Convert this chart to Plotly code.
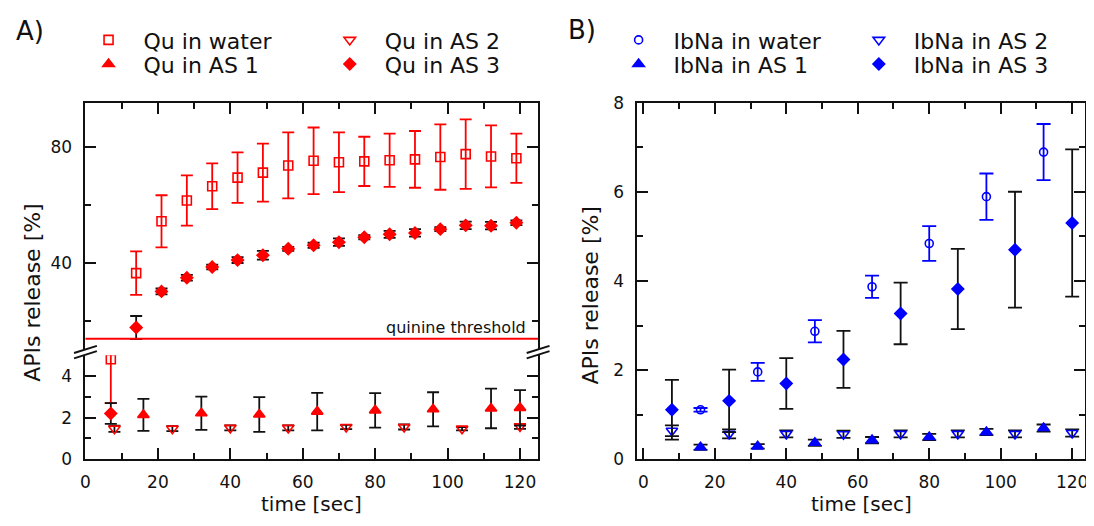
import plotly.graph_objects as go

# ---------------- Panel A: quinine (Qu) release [%] ----------------
qu_t_water = [7, 14, 21, 28, 35, 42, 49, 56, 63, 70, 77, 84, 91, 98, 105, 112, 119]
qu_water = [4.8, 36.4, 54.3, 61.5, 66.4, 69.4, 71.1, 73.6, 75.2, 74.7, 75.0, 75.4, 75.7, 76.5, 77.5, 76.7, 76.1]
qu_water_err = [2.1, 7.5, 9.0, 8.7, 7.9, 8.7, 10.0, 11.4, 11.5, 10.3, 8.5, 9.2, 9.8, 11.3, 12.0, 10.7, 8.5]

qu_t_as1 = [16, 32, 48, 64, 80, 96, 112, 120]
qu_as1 = [2.13, 2.21, 2.15, 2.29, 2.35, 2.40, 2.44, 2.47]
qu_as1_err = [0.77, 0.80, 0.83, 0.90, 0.83, 0.82, 0.95, 0.85]

qu_t_as2 = [8, 24, 40, 56, 72, 88, 104, 120]
qu_as2 = [1.47, 1.47, 1.51, 1.51, 1.55, 1.55, 1.47, 1.58]
qu_as2_err = [0.15, 0.12, 0.12, 0.12, 0.10, 0.12, 0.08, 0.12]

qu_t_as3 = [7, 14, 21, 28, 35, 42, 49, 56, 63, 70, 77, 84, 91, 98, 105, 112, 119]
qu_as3 = [2.2, 17.6, 30.1, 34.8, 38.5, 40.9, 42.6, 44.8, 46.0, 47.1, 48.8, 49.8, 50.3, 51.6, 52.9, 52.8, 53.8]
qu_as3_err = [0.5, 4.0, 1.0, 1.0, 0.8, 1.0, 1.5, 0.7, 0.9, 1.3, 0.7, 1.2, 1.3, 0.7, 1.3, 1.3, 0.8]

quinine_threshold = 13.7

# ---------------- Panel B: ibuprofen sodium (IbNa) release [%] ----------------
ib_t_water = [16, 32, 48, 64, 80, 96, 112]
ib_water = [1.11, 1.96, 2.87, 3.87, 4.84, 5.89, 6.89]
ib_water_err = [0.04, 0.20, 0.25, 0.25, 0.39, 0.52, 0.63]

ib_t_as1 = [16, 32, 48, 64, 80, 96, 112]
ib_as1 = [0.27, 0.29, 0.37, 0.43, 0.50, 0.61, 0.70]
ib_as1_err = [0.06, 0.05, 0.07, 0.07, 0.07, 0.07, 0.08]

ib_t_as2 = [8, 24, 40, 56, 72, 88, 104, 120]
ib_as2 = [0.64, 0.57, 0.57, 0.56, 0.57, 0.57, 0.57, 0.59]
ib_as2_err = [0.12, 0.10, 0.08, 0.08, 0.08, 0.08, 0.08, 0.08]

ib_t_as3 = [8, 24, 40, 56, 72, 88, 104, 120]
ib_as3 = [1.11, 1.31, 1.70, 2.24, 3.27, 3.82, 4.70, 5.30]
ib_as3_err = [0.67, 0.70, 0.57, 0.64, 0.69, 0.90, 1.30, 1.65]

# page has an 8px body margin: the figure starts at (8, 8) in the window
OFF = 8
W, H = 1094 - OFF, 526 - OFF
FONT = "DejaVu Sans"
RED = "#ff0000"
BLUE = "#0000ff"
BLACK = "#111111"


def px(x):
    return (x - OFF) / W


def py(y):
    return 1 - (y - OFF) / H


fig = go.Figure()


def add(x, y, err, symbol, color, ecolor, size, name, xa, ya, legend=None, show=False, ew=6):
    fig.add_trace(go.Scatter(
        x=x, y=y, mode="markers", name=name,
        marker=dict(symbol=symbol, size=size, color=color, line=dict(color=color, width=1.6)),
        error_y=dict(type="data", array=err, visible=True, color=ecolor, thickness=1.8, width=ew),
        xaxis=xa, yaxis=ya, showlegend=show, legend=legend if legend else "legend",
    ))


# Panel A series: drawn on lower (x,y) and upper (x2,y2) parts of the broken axis
qa = [
    (qu_t_water, qu_water, qu_water_err, "square-open", RED, RED, 9, "Qu in water", "legend"),
    (qu_t_as2, qu_as2, qu_as2_err, "triangle-down-open", RED, BLACK, 10, "Qu in AS 2", "legend2"),
    (qu_t_as1, qu_as1, qu_as1_err, "triangle-up", RED, BLACK, 10, "Qu in AS 1", "legend3"),
    (qu_t_as3, qu_as3, qu_as3_err, "diamond", RED, BLACK, 9, "Qu in AS 3", "legend4"),
]
for t, v, e, sym, c, ec, s, n, lg in qa:
    add(t, v, e, sym, c, ec, s, n, "x", "y", lg, True)
    add(t, v, e, sym, c, ec, s, n, "x2", "y2")

qb = [
    (ib_t_water, ib_water, ib_water_err, "circle-open", BLUE, BLUE, 8, "IbNa in water", "legend5"),
    (ib_t_as2, ib_as2, ib_as2_err, "triangle-down-open", BLUE, BLACK, 10, "IbNa in AS 2", "legend6"),
    (ib_t_as1, ib_as1, ib_as1_err, "triangle-up", BLUE, BLACK, 10, "IbNa in AS 1", "legend7"),
    (ib_t_as3, ib_as3, ib_as3_err, "diamond", BLUE, BLACK, 9, "IbNa in AS 3", "legend8"),
]
for t, v, e, sym, c, ec, s, n, lg in qb:
    add(t, v, e, sym, c, ec, s, n, "x3", "y3", lg, True, ew=7)

axis_common = dict(
    showline=True, linecolor=BLACK, linewidth=2, showgrid=False, zeroline=False,
    ticks="inside", ticklen=11, tickwidth=2, tickcolor=BLACK,
    tickfont=dict(family=FONT, size=17, color=BLACK),
)
minor_x = dict(dtick=10, ticklen=6, tickwidth=2, ticks="inside", tickcolor=BLACK)

A_dom = [px(81), px(537)]
B_dom = [px(637), px(1088)]

fig.update_layout(
    width=W, height=H,
    margin=dict(l=0, r=0, t=0, b=0),
    paper_bgcolor="white", plot_bgcolor="white",
    font=dict(family=FONT, color=BLACK),
    xaxis=dict(axis_common, domain=A_dom, anchor="y", range=[0, 125], tick0=0, dtick=20,
               minor=minor_x, ticklabelstandoff=6),
    yaxis=dict(axis_common, domain=[py(467), py(358.7)], anchor="x", range=[0, 5.0], tick0=0, dtick=2,
               minor=dict(dtick=1, ticklen=6, tickwidth=2, ticks="inside", tickcolor=BLACK),
               mirror="ticks", ticklabelstandoff=8),
    xaxis2=dict(axis_common, domain=A_dom, anchor="y2", side="top", matches="x", range=[0, 125],
                tick0=0, dtick=20, showticklabels=False, minor=minor_x),
    yaxis2=dict(axis_common, domain=[py(352), py(96)], anchor="x2", range=[10.3, 95.3], tick0=0, dtick=40,
                minor=dict(dtick=20, ticklen=6, tickwidth=2, ticks="inside", tickcolor=BLACK),
                mirror="ticks", ticklabelstandoff=8),
    xaxis3=dict(axis_common, domain=B_dom, anchor="y3", range=[-1.67, 123.6], tick0=0, dtick=20,
                minor=minor_x, mirror="ticks", ticklabelstandoff=6),
    yaxis3=dict(axis_common, domain=[py(467), py(96)], anchor="x3", range=[0, 8], tick0=0, dtick=2,
                minor=dict(dtick=1, ticklen=6, tickwidth=2, ticks="inside", tickcolor=BLACK),
                mirror="ticks", ticklabelstandoff=8),
)

# legends: one per entry, laid out 2x2 above each panel
leg_pos = {
    "legend": (104, 31), "legend2": (347, 31), "legend3": (104, 56), "legend4": (347, 56),
    "legend5": (638, 31), "legend6": (880, 31), "legend7": (638, 56), "legend8": (880, 56),
}
ITEMW = 60
for key, (mx, my) in leg_pos.items():
    fig.update_layout({key: dict(
        x=px(mx - (ITEMW + 10) / 2), y=py(my), xanchor="left", yanchor="middle",
        bgcolor="rgba(0,0,0,0)", borderwidth=0, itemwidth=ITEMW,
        font=dict(family=FONT, size=22, color=BLACK),
    )})

# threshold line
fig.add_shape(type="line", xref="x2 domain", yref="y2", x0=0, x1=1,
              y0=quinine_threshold, y1=quinine_threshold, line=dict(color=RED, width=2))

# axis break marks
for cx in (81, 537):
    for dy in (0, 5.5):
        fig.add_shape(type="line", xref="paper", yref="paper",
                      x0=px(cx - 11.5), y0=py(356.5 + dy), x1=px(cx + 11.5), y1=py(349 + dy),
                      line=dict(color=BLACK, width=2))

ann_font = dict(family=FONT, color=BLACK)
annotations = [
    dict(text="quinine threshold", xref="x2 domain", yref="y2", x=(527 - 81) / 456, y=quinine_threshold,
         xanchor="right", yanchor="bottom", showarrow=False, font=dict(ann_font, size=16)),
    dict(text="A)", xref="paper", yref="paper", x=px(25), y=py(22), xanchor="center", yanchor="middle",
         showarrow=False, font=dict(ann_font, size=26)),
    dict(text="B)", xref="paper", yref="paper", x=px(581), y=py(21), xanchor="center", yanchor="middle",
         showarrow=False, font=dict(ann_font, size=26)),
    dict(text="time [sec]", xref="paper", yref="paper", x=px(309), y=py(513), xanchor="center", yanchor="middle",
         showarrow=False, font=dict(ann_font, size=20)),
    dict(text="time [sec]", xref="paper", yref="paper", x=px(863), y=py(513), xanchor="center", yanchor="middle",
         showarrow=False, font=dict(ann_font, size=20)),
    dict(text="APIs release [%]", xref="paper", yref="paper", x=px(28), y=py(293), xanchor="center",
         yanchor="middle", textangle=-90, showarrow=False, font=dict(ann_font, size=22)),
    dict(text="APIs release [%]", xref="paper", yref="paper", x=px(590), y=py(296), xanchor="center",
         yanchor="middle", textangle=-90, showarrow=False, font=dict(ann_font, size=22)),
]
fig.update_layout(annotations=annotations)

fig.write_html("out.html")
